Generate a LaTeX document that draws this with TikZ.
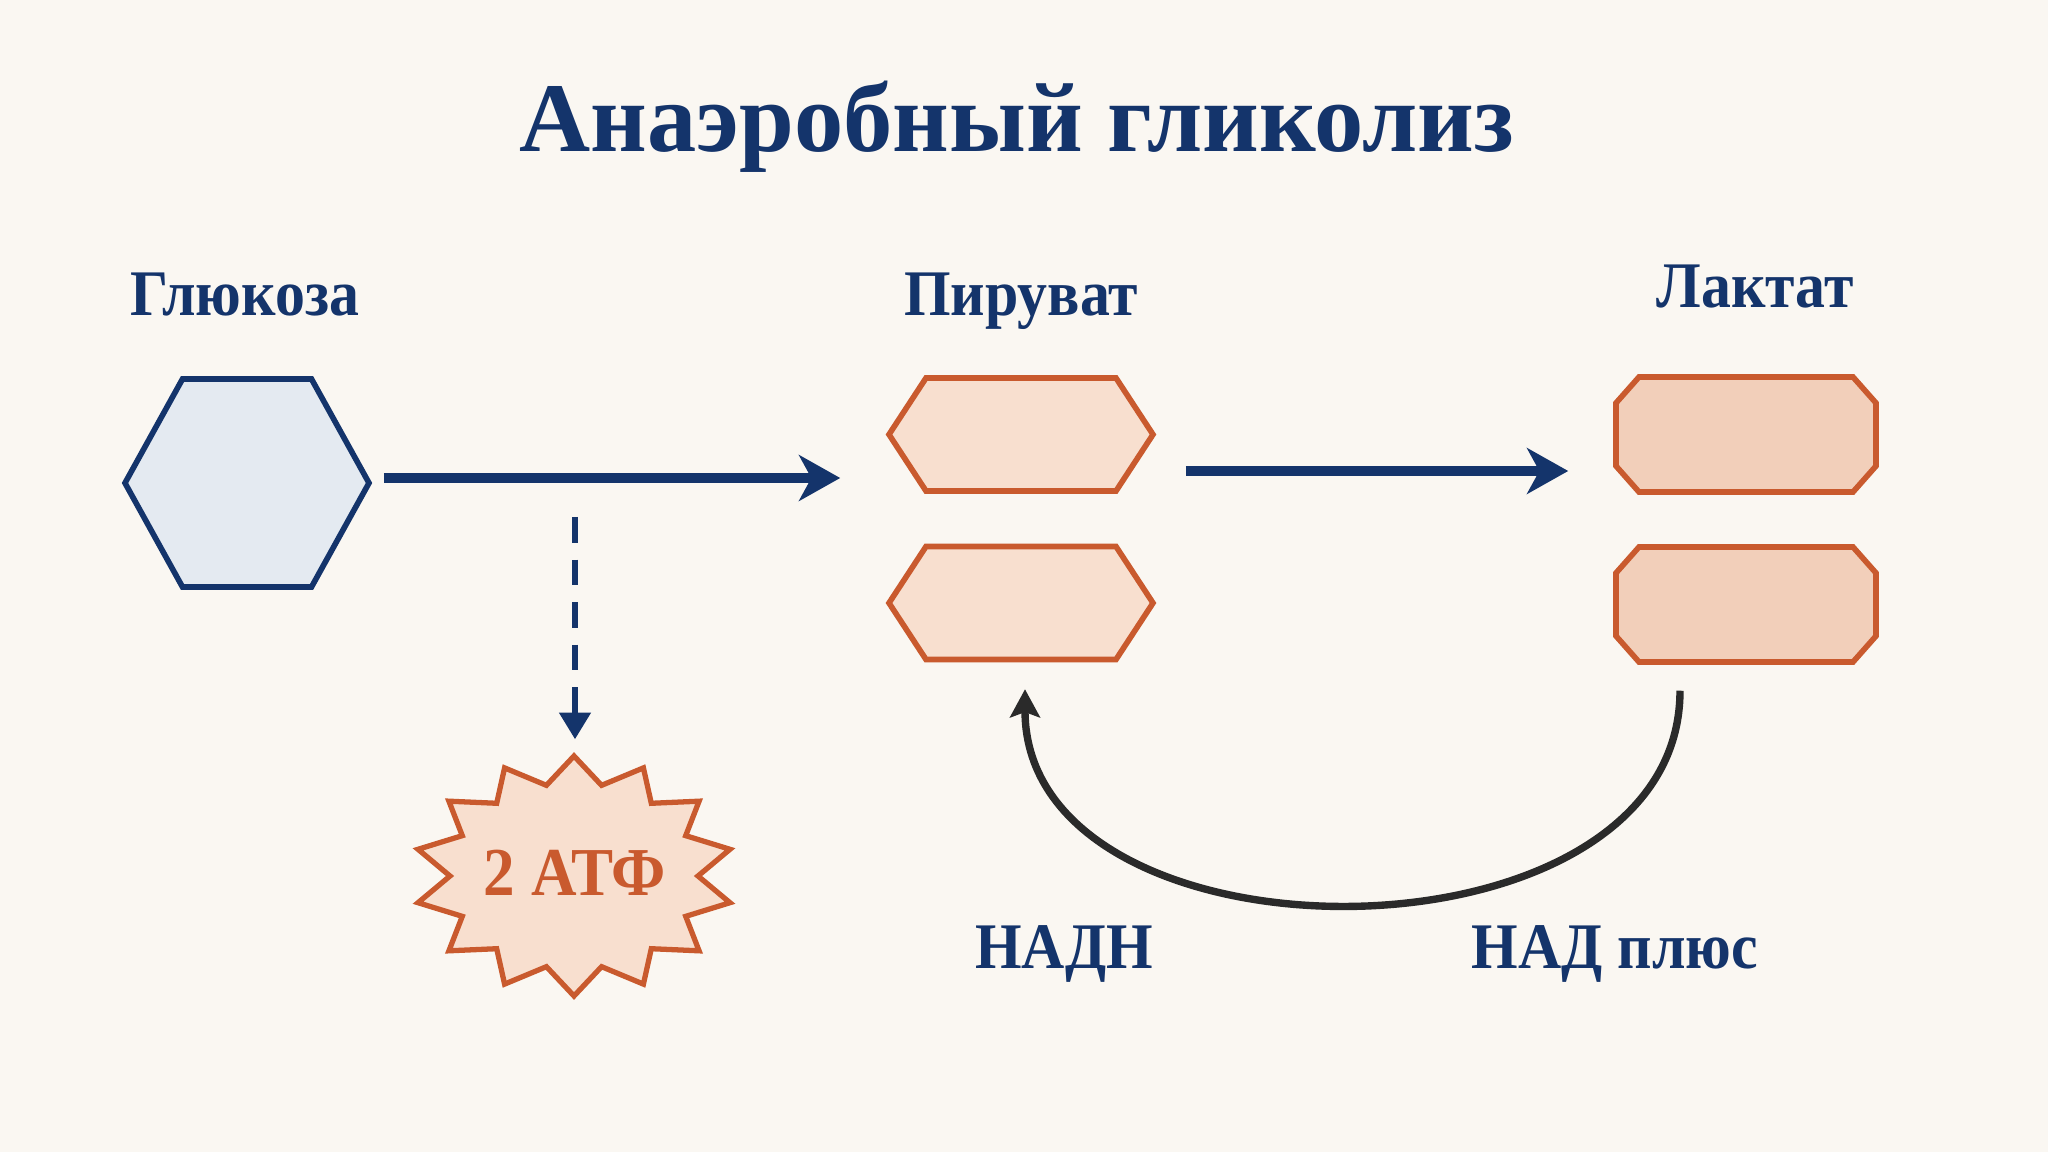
\documentclass[tikz,border=0pt]{standalone}
\usepackage{fontspec}
\setmainfont{Liberation Serif}
\newfontfamily\lblfont{Liberation Serif}[FakeStretch=0.92]
\usetikzlibrary{arrows.meta,calc}
\definecolor{bgc}{HTML}{FAF7F2}
\definecolor{navy}{HTML}{14346B}
\definecolor{orng}{HTML}{C95A2E}
\definecolor{glufill}{HTML}{E4EAF1}
\definecolor{pyrfill}{HTML}{F8DFCF}
\definecolor{lacfill}{HTML}{F2CFBA}
\definecolor{starfill}{HTML}{F8DFCF}
\definecolor{cycc}{HTML}{2A2A2A}
\newcommand\drawhexa[5]{\draw[#1] ($(#2)+(-#3,0)$) -- ($(#2)+(-#5,-#4)$) -- ($(#2)+(#5,-#4)$) -- ($(#2)+(#3,0)$) -- ($(#2)+(#5,#4)$) -- ($(#2)+(-#5,#4)$) -- cycle;}
\newcommand\drawocta[2]{\draw[#1] ($(#2)+(-130,-31.5)$) -- ($(#2)+(-107,-57.5)$) -- ($(#2)+(107,-57.5)$) -- ($(#2)+(130,-31.5)$) -- ($(#2)+(130,31.5)$) -- ($(#2)+(107,57.5)$) -- ($(#2)+(-107,57.5)$) -- ($(#2)+(-130,31.5)$) -- cycle;}
\begin{document}
\begin{tikzpicture}[x=0.01cm,y=-0.01cm,
  hold/.style={draw=none,inner sep=0pt},
  ttl/.style={anchor=base,text=navy,font=\bfseries\fontsize{28}{32}\selectfont,inner sep=0pt},
  lbl/.style={anchor=base,text=navy,font=\lblfont\bfseries\fontsize{18.5}{22}\selectfont,inner sep=0pt},
  glusty/.style={draw=navy,fill=glufill,line width=1.6pt},
  pyrsty/.style={draw=orng,fill=pyrfill,line width=1.6pt},
  lacsty/.style={draw=orng,fill=lacfill,line width=1.6pt},
  starsty/.style={draw=orng,fill=starfill,line width=1.5pt},
  mainarr/.style={draw=navy,line width=2.8pt,-{Stealth[length=11.7pt,width=13pt,inset=3.5pt]}},
  dasharr/.style={draw=navy,line width=1.5pt,dash pattern=on 7.3pt off 4.8pt,-{Triangle[length=7.6pt,width=8.8pt]}},
  cycarr/.style={draw=cycc,line width=2.1pt,-{Stealth[length=8pt,width=8.5pt,inset=1.5pt]}}
]
\fill[bgc] (0,0) rectangle (2048,1152);
\useasboundingbox (0,0) rectangle (2048,1152);

% title
\node[ttl] (title) at (1017,152) {Анаэробный гликолиз};

% labels
\node[lbl] (glulbl) at (245,316) {Глюкоза};
\node[lbl] (pyrlbl) at (1021,316) {Пируват};
\node[lbl] (laclbl) at (1755,308) {Лактат};
\node[lbl] (nadh) at (1064,968) {НАДН};
\node[lbl] (nadplus) at (1615,968) {НАД плюс};

% shape holders
\node[hold,minimum width=2.44cm,minimum height=2.08cm] (glu) at (247,483) {};
\node[hold,minimum width=2.64cm,minimum height=1.13cm] (p1) at (1021,434.5) {};
\node[hold,minimum width=2.64cm,minimum height=1.13cm] (p2) at (1021,603) {};
\node[hold,minimum width=2.60cm,minimum height=1.15cm] (l1) at (1746,434.5) {};
\node[hold,minimum width=2.60cm,minimum height=1.15cm] (l2) at (1746,604.5) {};

\drawhexa{glusty}{glu}{122}{104}{64.5}
\drawhexa{pyrsty}{p1}{132}{56.5}{95}
\drawhexa{pyrsty}{p2}{132}{56.5}{95}
\drawocta{lacsty}{l1}
\drawocta{lacsty}{l2}

% star
\draw[starsty] (574,756)
  \foreach \k in {0,...,12} {
    -- ({574+124*cos(90-\k*360/14-360/28)},{876-93*sin(90-\k*360/14-360/28)})
    -- ({574+160*cos(90-(\k+1)*360/14)},{876-120*sin(90-(\k+1)*360/14)})
  }
  -- ({574+124*cos(90-13*360/14-360/28)},{876-93*sin(90-13*360/14-360/28)}) -- cycle;
\node[hold,minimum width=3.2cm,minimum height=2.4cm] (atp) at (574,876) {};
\node[anchor=base,text=orng,font=\lblfont\bfseries\fontsize{19.5}{22}\selectfont,inner sep=0pt] (atptxt) at (575,895) {2 АТФ};

% connectors
\draw[mainarr] ($(glu.east)+(14,-5)$) -- ($(p1.west)+(-48,43.5)$);
\draw[mainarr] ($(p1.east)+(32,36.5)$) -- ($(l1.west)+(-47,36.5)$);
\coordinate (dashstart) at (575,517);
\draw[dasharr] (dashstart) -- ($(atp.north)+(1,-16)$);
\draw[cycarr] ($(l2.south)+(-66,28)$) .. controls +(0,284) and +(0,286) .. ($(p2.south)+(4,29)$);
\end{tikzpicture}
\end{document}
